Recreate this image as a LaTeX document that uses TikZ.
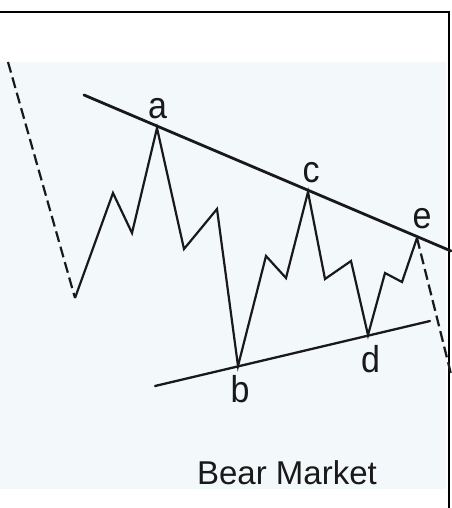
\documentclass[tikz,border=0pt]{standalone}
\usepackage{fontspec}
\setmainfont{Liberation Sans}
\usetikzlibrary{positioning}
\definecolor{bgblue}{RGB}{243,248,251}
\definecolor{inkgray}{RGB}{25,25,25}
\tikzstyle{wave}=[line width=2.2pt,draw=inkgray,line join=miter]
\tikzstyle{trend}=[line width=2.8pt,draw=inkgray,line cap=round]
\tikzstyle{dashwave}=[line width=2.2pt,draw=inkgray,dash pattern=on 11pt off 5pt]
\tikzstyle{lbl}=[font=\fontsize{34}{34}\selectfont,text=inkgray,inner sep=0pt,anchor=base]

\begin{document}
\begin{tikzpicture}[x=1pt,y=-1pt]
  \useasboundingbox (0,0) rectangle (451,508);
  \fill[bgblue] (0,62) rectangle (446,489);
  \draw[line width=1.8pt] (0,12) -- (449,12) -- (449,508);
  % trend lines
  \coordinate (tl1) at (84,95);
  \coordinate (tl2) at (451,251);
  \coordinate (bl1) at (155,386);
  \coordinate (bl2) at (430,321);
  % wave points
  \coordinate (s0) at (8,62);
  \coordinate (w0) at (75,298);
  \coordinate (w1) at (113,193);
  \coordinate (w2) at (132,233);
  \coordinate (pa) at (157,128);
  \coordinate (w3) at (184,249);
  \coordinate (w4) at (217,209);
  \coordinate (pb) at (238,366);
  \coordinate (w5) at (266,256);
  \coordinate (w6) at (286,278);
  \coordinate (pc) at (308,192);
  \coordinate (w7) at (325,279);
  \coordinate (w8) at (351,261);
  \coordinate (pd) at (368,335);
  \coordinate (w9) at (385,273);
  \coordinate (w10) at (402,282);
  \coordinate (pe) at (417,238);
  \coordinate (s1) at (451,374);
  \draw[trend] (tl1) -- (tl2);
  \draw[trend,line width=2.3pt] (bl1) -- (bl2);
  \draw[dashwave] (s0) -- (w0);
  \draw[wave] (w0) -- (w1) -- (w2) -- (pa) -- (w3) -- (w4) -- (pb) -- (w5) -- (w6)
    -- (pc) -- (w7) -- (w8) -- (pd) -- (w9) -- (w10) -- (pe);
  \draw[dashwave] (pe) -- (s1);
  % labels
  \node[lbl] (la) at (157.5,118) {\scalebox{1}[1.1]{a}};
  \node[lbl] (lb) at (240,402) {\scalebox{1}[1.1]{b}};
  \node[lbl] (lc) at (311,182) {\scalebox{1}[1.1]{c}};
  \node[lbl] (ld) at (370.5,372) {\scalebox{1}[1.1]{d}};
  \node[lbl] (le) at (422,228) {\scalebox{1}[1.1]{e}};
  \node[lbl,font=\fontsize{33}{33}\selectfont] (title) at (287,484) {Bear Market};
\end{tikzpicture}
\end{document}
